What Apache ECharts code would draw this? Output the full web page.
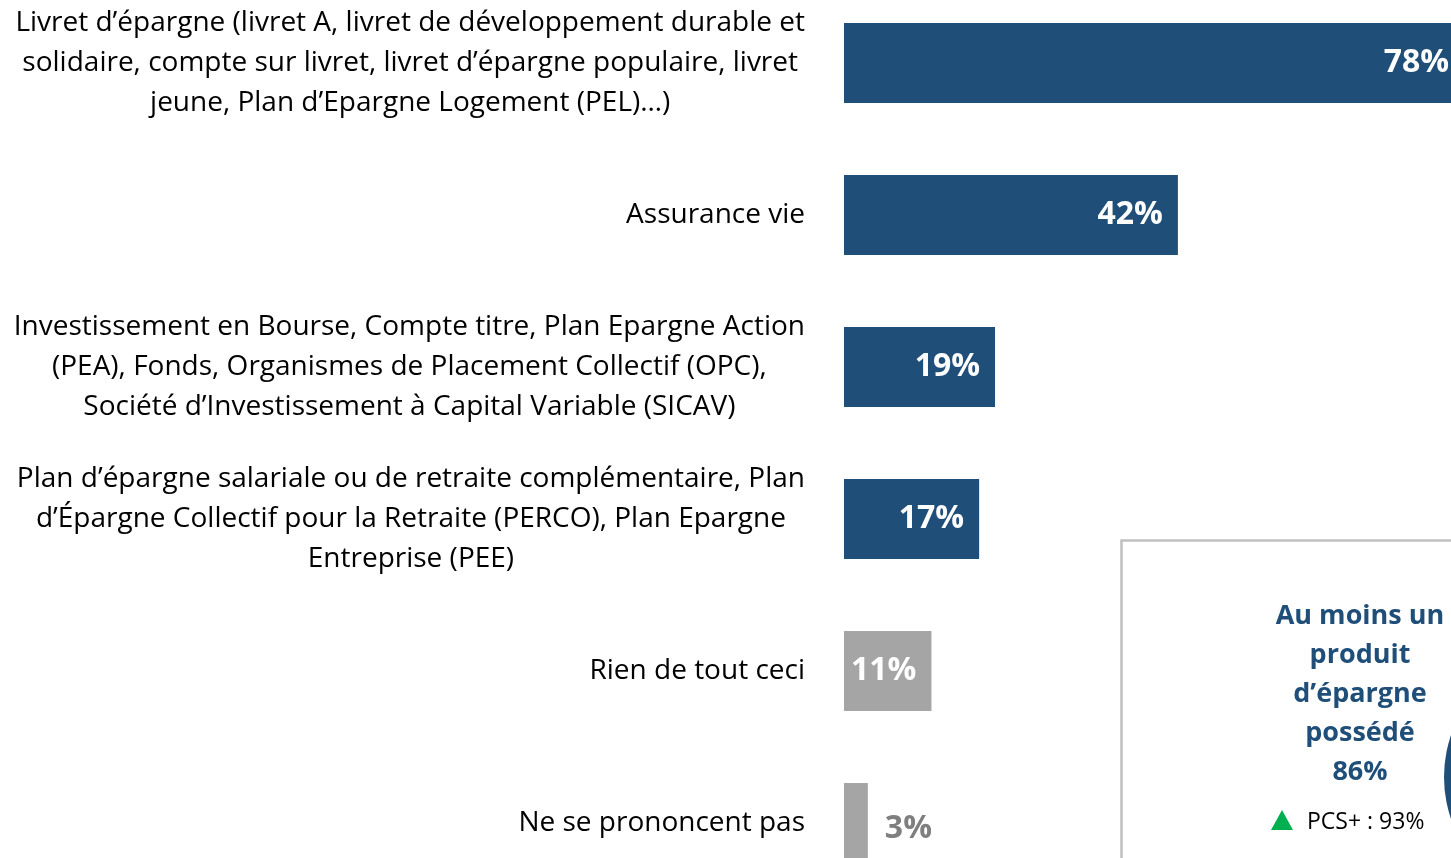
<!DOCTYPE html>
<html>
<head>
<meta charset="utf-8">
<script src="https://cdn.jsdelivr.net/npm/echarts@6/dist/echarts.min.js"></script>
<style>
  html, body { margin: 0; padding: 0; background: #ffffff; }
  #chart { width: 1451px; height: 858px; }
</style>
</head>
<body>
<div id="chart"></div>
<script>
  // libellés (retours à la ligne comme sur l'original)
  const categories = [
    'Livret d’épargne (livret A, livret de développement durable et\nsolidaire, compte sur livret, livret d’épargne populaire, livret\njeune, Plan d’Epargne Logement (PEL)…)',
    'Assurance vie',
    'Investissement en Bourse, Compte titre, Plan Epargne Action\n(PEA), Fonds, Organismes de Placement Collectif (OPC),\nSociété d’Investissement à Capital Variable (SICAV)',
    'Plan d’épargne salariale ou de retraite complémentaire, Plan\nd’Épargne Collectif pour la Retraite (PERCO), Plan Epargne\nEntreprise (PEE)',
    'Rien de tout ceci',
    'Ne se prononcent pas'
  ];
  const values = [78, 42, 19, 17, 11, 3];
  const greyCategories = ['Rien de tout ceci', 'Ne se prononcent pas'];

  // encadré "au moins un produit"
  const boxTitle = ['Au moins un', 'produit', 'd’épargne', 'possédé'];
  const boxValue = 86;
  const boxSub = 'PCS+ : 93%';

  const BLUE = '#1F4E79';
  const GREY = '#A5A5A5';
  const FONT = '"Open Sans", sans-serif';

  let chart = echarts.init(document.getElementById('chart'));

  let seriesData = values.map(function (v, i) {
    let grey = greyCategories.indexOf(categories[i]) >= 0;
    let item = {
      value: v,
      itemStyle: { color: grey ? GREY : BLUE }
    };
    if (v < 5) {
      // barre trop courte : étiquette à l'extérieur
      item.label = { position: 'right', distance: 17, color: '#7F7F7F', offset: [0, 6] };
    }
    return item;
  });

  let option = {
    animation: false,
    backgroundColor: '#ffffff',
    grid: {
      left: 844, top: -13, width: 795, height: 912,
      containLabel: false, outerBoundsMode: 'none'
    },
    xAxis: {
      type: 'value', min: 0, max: 100, show: false
    },
    yAxis: {
      type: 'category',
      inverse: true,
      data: categories,
      axisLine: { show: false },
      axisTick: { show: false },
      axisLabel: {
        margin: 39,
        formatter: function (val) {
          return val.split('\n').map(function (l) { return '{c|' + l + '}'; }).join('\n');
        },
        rich: {
          c: { align: 'center', fontFamily: FONT, fontSize: 28, color: '#000000', lineHeight: 40 }
        }
      }
    },
    series: [{
      type: 'bar',
      barWidth: 80,
      data: seriesData,
      label: {
        show: true,
        position: 'insideRight',
        distance: 15,
        overflow: 'none',
        formatter: '{c}%',
        fontFamily: FONT,
        fontWeight: 'bold',
        fontSize: 32,
        color: '#ffffff'
      }
    }],
    graphic: [
      {
        type: 'rect', left: 1119, top: 538,
        shape: { width: 420, height: 400 },
        style: { fill: 'none', stroke: '#C0C0C0', lineWidth: 2.5 }
      },
      {
        type: 'circle', left: 1444, top: 647,
        shape: { r: 130 },
        style: { fill: BLUE }
      },
      {
        type: 'text', x: 1360, y: 597,
        style: {
          text: boxTitle.join('\n') + '\n' + boxValue + '%',
          align: 'center', fontFamily: FONT, fontWeight: 'bold', fontSize: 27,
          lineHeight: 39, fill: BLUE
        }
      },
      {
        type: 'polygon',
        shape: { points: [[1271, 830], [1293, 830], [1282, 810]] },
        style: { fill: '#00B050' }
      },
      {
        type: 'text', x: 1307, y: 811,
        style: { text: boxSub, fontFamily: FONT, fontSize: 23, fill: '#000000' }
      }
    ]
  };

  chart.setOption(option);
  window.addEventListener('resize', function () {
    chart.resize();
  });
</script>
</body>
</html>
